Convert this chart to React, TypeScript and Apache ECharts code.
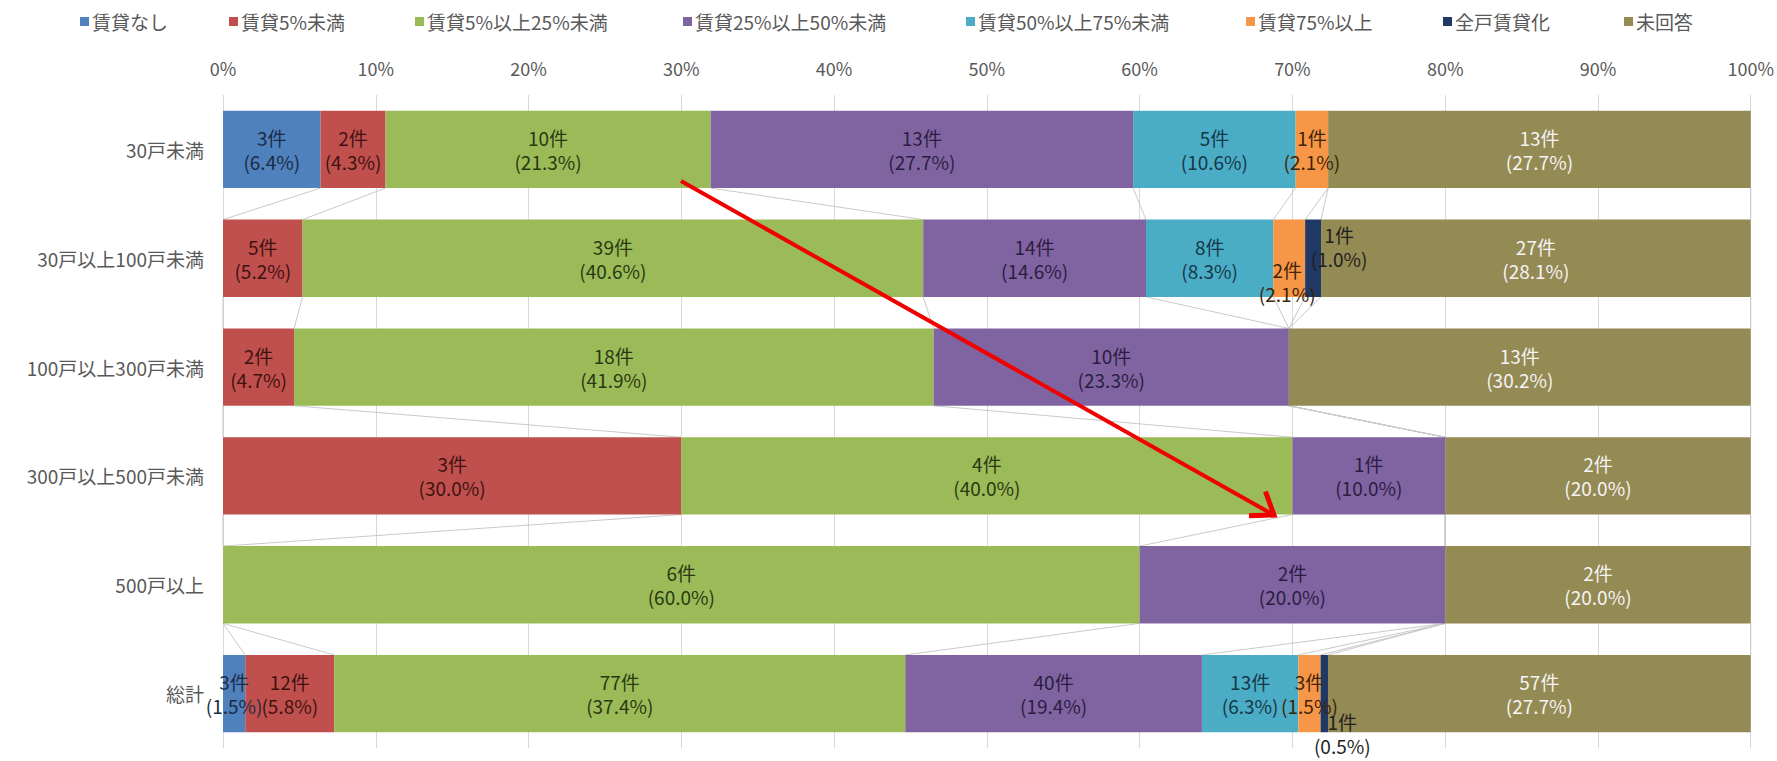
import React, { useEffect, useRef } from "react";
import * as echarts from "echarts";

const categories = [
  "30戸未満",
  "30戸以上100戸未満",
  "100戸以上300戸未満",
  "300戸以上500戸未満",
  "500戸以上",
  "総計",
];

const seriesNames = [
  "賃貸なし",
  "賃貸5%未満",
  "賃貸5%以上25%未満",
  "賃貸25%以上50%未満",
  "賃貸50%以上75%未満",
  "賃貸75%以上",
  "全戸賃貸化",
  "未回答",
];

// counts (件) per series, one value per category
const noneCounts = [3, 0, 0, 0, 0, 3];
const under5Counts = [2, 5, 2, 3, 0, 12];
const r5to25Counts = [10, 39, 18, 4, 6, 77];
const r25to50Counts = [13, 14, 10, 1, 2, 40];
const r50to75Counts = [5, 8, 0, 0, 0, 13];
const over75Counts = [1, 2, 0, 0, 0, 3];
const allRentCounts = [0, 1, 0, 0, 0, 1];
const noAnswerCounts = [13, 27, 13, 2, 2, 57];

// percentages shown in the labels
const nonePct = [6.4, 0, 0, 0, 0, 1.5];
const under5Pct = [4.3, 5.2, 4.7, 30.0, 0, 5.8];
const r5to25Pct = [21.3, 40.6, 41.9, 40.0, 60.0, 37.4];
const r25to50Pct = [27.7, 14.6, 23.3, 10.0, 20.0, 19.4];
const r50to75Pct = [10.6, 8.3, 0, 0, 0, 6.3];
const over75Pct = [2.1, 2.1, 0, 0, 0, 1.5];
const allRentPct = [0, 1.0, 0, 0, 0, 0.5];
const noAnswerPct = [27.7, 28.1, 30.2, 20.0, 20.0, 27.7];

const xTicks = [0, 10, 20, 30, 40, 50, 60, 70, 80, 90, 100];

const allCounts = [
  noneCounts,
  under5Counts,
  r5to25Counts,
  r25to50Counts,
  r50to75Counts,
  over75Counts,
  allRentCounts,
  noAnswerCounts,
];
const allPcts = [
  nonePct,
  under5Pct,
  r5to25Pct,
  r25to50Pct,
  r50to75Pct,
  over75Pct,
  allRentPct,
  noAnswerPct,
];

// styling
const colors = [
  "#4F81BD",
  "#C0504D",
  "#9BBB59",
  "#8064A2",
  "#4BACC6",
  "#F79646",
  "#1F3864",
  "#948A54",
];
const labelColors = [
  "#1C2B45",
  "#3E1211",
  "#2A3810",
  "#2B1D40",
  "#153846",
  "#3E2408",
  "#1F1F1F",
  "#F4F4F4",
];
const legendLefts = [80, 229, 415, 683, 966, 1246, 1443, 1624];
// special label offsets: key "seriesIndex-rowIndex"
const labelOffsets: Record<string, number[]> = {
  "5-1": [-2, 23],
  "6-1": [26, -12],
  "6-5": [18, 40],
};

const FONT = '"Noto Sans CJK JP", "Noto Sans", sans-serif';
const BAR_FRACTION = 0.71;

export default function App() {
  const ref = useRef<HTMLDivElement>(null);

  useEffect(() => {
    document.body.style.margin = "0";
    if (!ref.current) return;
    const chart = echarts.init(ref.current, undefined, { renderer: "svg" });

    const totals = categories.map((_, i) =>
      allCounts.reduce((s, arr) => s + arr[i], 0)
    );
    // cumulative shares at the right end of each series segment
    const cum: number[][] = [];
    allCounts.forEach((arr, s) => {
      cum.push(
        categories.map((_, i) => (s > 0 ? cum[s - 1][i] : 0) + arr[i] / totals[i])
      );
    });

    const barSeries = seriesNames.map((name, s) => ({
      name,
      type: "bar",
      stack: "total",
      barCategoryGap: "29%",
      itemStyle: { color: colors[s] },
      label: {
        show: true,
        position: "inside",
        color: labelColors[s],
        fontFamily: FONT,
        fontSize: 19,
        lineHeight: 24,
        formatter: (p: any) => {
          const c = allCounts[s][p.dataIndex];
          if (!c) return "";
          return `${c}件\n(${allPcts[s][p.dataIndex].toFixed(1)}%)`;
        },
      },
      data: categories.map((_, i) => {
        const off = labelOffsets[`${s}-${i}`];
        const v = allCounts[s][i] / totals[i];
        return off ? { value: v, label: { offset: off } } : { value: v };
      }),
    }));

    const seriesLineData: number[][] = [];
    for (let s = 0; s < seriesNames.length; s++) {
      for (let i = 0; i < categories.length - 1; i++) {
        seriesLineData.push([cum[s][i], i, cum[s][i + 1], i + 1]);
      }
    }

    const connector = {
      type: "custom",
      silent: true,
      z: 1,
      encode: { x: [0, 2], y: [1, 3] },
      data: seriesLineData,
      renderItem: (_params: any, api: any) => {
        const p0 = api.coord([api.value(0), api.value(1)]);
        const p1 = api.coord([api.value(2), api.value(3)]);
        const band = api.size([0, 1])[1];
        const h = (band * BAR_FRACTION) / 2;
        return {
          type: "line",
          shape: { x1: p0[0], y1: p0[1] + h, x2: p1[0], y2: p1[1] - h },
          style: { stroke: "#C9C9C9", lineWidth: 1 },
        };
      },
    };

    // red arrow annotation
    const tail = [681, 181];
    const tip = [1274, 515];
    const armLen = 25;
    const toRad = (d: number) => (d * Math.PI) / 180;
    const arm1 = [tip[0] + armLen * Math.cos(toRad(178)), tip[1] + armLen * Math.sin(toRad(178))];
    const arm2 = [tip[0] + armLen * Math.cos(toRad(250)), tip[1] + armLen * Math.sin(toRad(250))];

    const option: any = {
      animation: false,
      backgroundColor: "#FFFFFF",
      textStyle: { fontFamily: FONT },
      legend: seriesNames.map((name, s) => ({
        data: [name],
        left: legendLefts[s],
        top: 12,
        icon: "rect",
        itemWidth: 9,
        itemHeight: 9,
        itemGap: 0,
        padding: 0,
        selectedMode: false,
        textStyle: { color: "#595959", fontSize: 19, fontFamily: FONT, padding: [0, 0, 0, -2] },
      })),
      grid: { left: 223, right: 26, top: 95, bottom: 13, containLabel: false },
      xAxis: {
        type: "value",
        position: "top",
        min: 0,
        max: 1,
        interval: 0.1,
        axisLine: { show: false },
        axisTick: { show: false },
        axisLabel: {
          color: "#595959",
          fontSize: 18,
          fontFamily: FONT,
          margin: 18,
          formatter: (v: number) => {
            const t = xTicks.find((k) => Math.abs(k - v * 100) < 0.01);
            return t === undefined ? "" : `${t}%`;
          },
        },
        splitLine: { show: true, lineStyle: { color: "#D9D9D9", width: 1 } },
      },
      yAxis: {
        type: "category",
        data: categories,
        inverse: true,
        axisLine: { show: false },
        axisTick: { show: false },
        axisLabel: { color: "#595959", fontSize: 19, fontFamily: FONT, margin: 19 },
      },
      series: [...barSeries, connector],
      graphic: [
        {
          type: "line",
          z: 100,
          shape: { x1: tail[0], y1: tail[1], x2: tip[0] - 2, y2: tip[1] - 1 },
          style: { stroke: "#F00000", lineWidth: 4 },
        },
        {
          type: "polyline",
          z: 100,
          shape: { points: [arm1, tip, arm2] },
          style: { stroke: "#F00000", lineWidth: 5, fill: null, lineJoin: "miter" },
        },
      ],
    };

    chart.setOption(option);
    return () => chart.dispose();
  }, []);

  return <div ref={ref} style={{ width: 1777, height: 761 }} />;
}
